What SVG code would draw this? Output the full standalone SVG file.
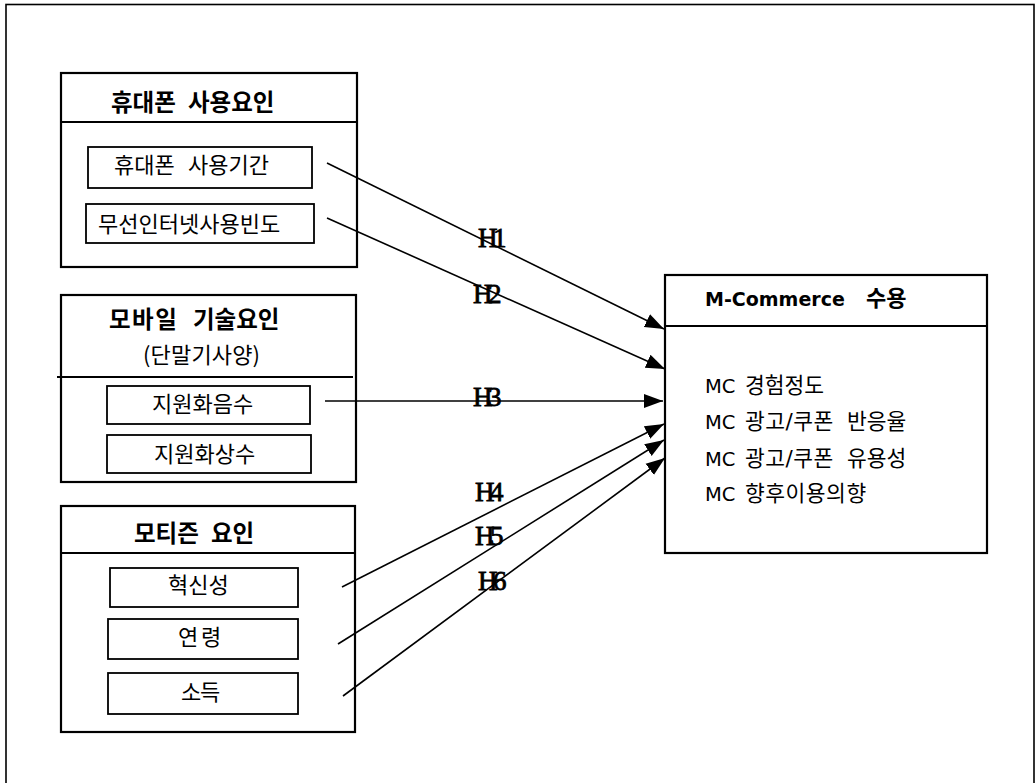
<svg xmlns="http://www.w3.org/2000/svg" width="1035" height="783" viewBox="0 0 1035 783">
<style>
.box{fill:#fff;stroke:#000;stroke-width:2.2}
.sub{fill:#fff;stroke:#000;stroke-width:1.8}
.div{stroke:#000;stroke-width:2.2}
.t{font-family:"Noto Sans CJK KR","Noto Sans",sans-serif;fill:#000;font-size:22px}
.ttl{font-size:23.5px;font-weight:bold}
.r{font-family:"DejaVu Sans","Noto Sans CJK KR",sans-serif;font-size:21.5px}
.lat{font-size:19.5px}
.rt{font-family:"DejaVu Sans","Noto Sans CJK KR",sans-serif;font-size:19px;font-weight:bold}
.conn{stroke:#000;stroke-width:1.6;fill:none;marker-end:url(#ah)}
.h{font-family:"Liberation Serif","Times New Roman",serif;font-size:27px;letter-spacing:-4.5px;fill:#000;stroke:#000;stroke-width:0.8}
</style>
<defs>
<marker id="ah" markerUnits="userSpaceOnUse" markerWidth="20" markerHeight="16" viewBox="0 0 20 16" refX="19" refY="8" orient="auto">
<path d="M0,1 L19,8 L0,15 z" fill="#000"/>
</marker>
</defs>
<rect width="1035" height="783" fill="#fff"/>
<rect id="frame" x="6" y="4.5" width="1028" height="820" fill="none" stroke="#000" stroke-width="1.6"/>

<g id="phone-usage">
<rect class="box" x="61" y="73" width="296" height="194"/>
<line class="div" x1="61" y1="122" x2="357" y2="122"/>
<text class="t ttl" y="111"><tspan x="111">휴대폰</tspan><tspan x="188">사용요인</tspan></text>
<g id="phone-period">
<rect class="sub" x="88" y="147" width="224" height="41"/>
<text class="t" y="173"><tspan x="114">휴대폰</tspan><tspan x="188">사용기간</tspan></text>
</g>
<g id="wireless-freq">
<rect class="sub" x="86" y="204" width="228" height="39"/>
<text class="t" x="98" y="232">무선인터넷사용빈도</text>
</g>
</g>

<g id="mobile-tech">
<rect class="box" x="61" y="295" width="295" height="187"/>
<line class="div" x1="57" y1="377" x2="353" y2="377"/>
<text class="t ttl" y="328"><tspan x="109" letter-spacing="1.5">모바일</tspan><tspan x="193">기술요인</tspan></text>
<text class="t" x="143" y="363" textLength="117" lengthAdjust="spacing">(단말기사양)</text>
<g id="chord">
<rect class="sub" x="107" y="386" width="203" height="38"/>
<text class="t" x="152" y="412">지원화음수</text>
</g>
<g id="pixel">
<rect class="sub" x="107" y="435" width="204" height="38"/>
<text class="t" x="154" y="462">지원화상수</text>
</g>
</g>

<g id="motizen">
<rect class="box" x="61" y="506" width="294" height="226"/>
<line class="div" x1="61" y1="553" x2="355" y2="553"/>
<text class="t ttl" y="542"><tspan x="134">모티즌</tspan><tspan x="211">요인</tspan></text>
<g id="innovation">
<rect class="sub" x="110" y="568" width="188" height="39"/>
<text class="t" x="168" y="593">혁신성</text>
</g>
<g id="age">
<rect class="sub" x="108" y="619" width="190" height="40"/>
<text class="t" y="645"><tspan x="178">연</tspan><tspan x="201">령</tspan></text>
</g>
<g id="income">
<rect class="sub" x="108" y="673" width="190" height="41"/>
<text class="t" y="700"><tspan x="181">소</tspan><tspan x="200">득</tspan></text>
</g>
</g>

<g id="mc-acceptance">
<rect class="box" x="665" y="275" width="322" height="278"/>
<line class="div" x1="665" y1="326" x2="987" y2="326"/>
<text class="rt" y="306"><tspan x="705">M-Commerce</tspan><tspan x="866" font-size="22">수용</tspan></text>
<text class="r" y="393"><tspan x="705" class="lat">MC</tspan><tspan x="745">경험정도</tspan></text>
<text class="r" y="429"><tspan x="705" class="lat">MC</tspan><tspan x="745" letter-spacing="0.5">광고/쿠폰</tspan><tspan x="847">반응율</tspan></text>
<text class="r" y="466"><tspan x="705" class="lat">MC</tspan><tspan x="745" letter-spacing="0.5">광고/쿠폰</tspan><tspan x="847">유용성</tspan></text>
<text class="r" y="501"><tspan x="705" class="lat">MC</tspan><tspan x="745" letter-spacing="0.5">향후이용의향</tspan></text>
</g>

<g id="connectors">
<line class="conn" x1="327" y1="163" x2="664" y2="329"/>
<line class="conn" x1="327" y1="218" x2="665" y2="369"/>
<line class="conn" x1="325" y1="401" x2="663" y2="401"/>
<line class="conn" x1="342" y1="587" x2="664" y2="424"/>
<line class="conn" x1="338" y1="644" x2="664" y2="440"/>
<line class="conn" x1="343" y1="696" x2="665" y2="458"/>
<text class="h" x="478" y="247">H1</text>
<text class="h" x="473" y="303">H2</text>
<text class="h" x="473" y="406">H3</text>
<text class="h" x="475" y="501">H4</text>
<text class="h" x="475" y="545">H5</text>
<text class="h" x="478" y="590">H6</text>
</g>
</svg>
